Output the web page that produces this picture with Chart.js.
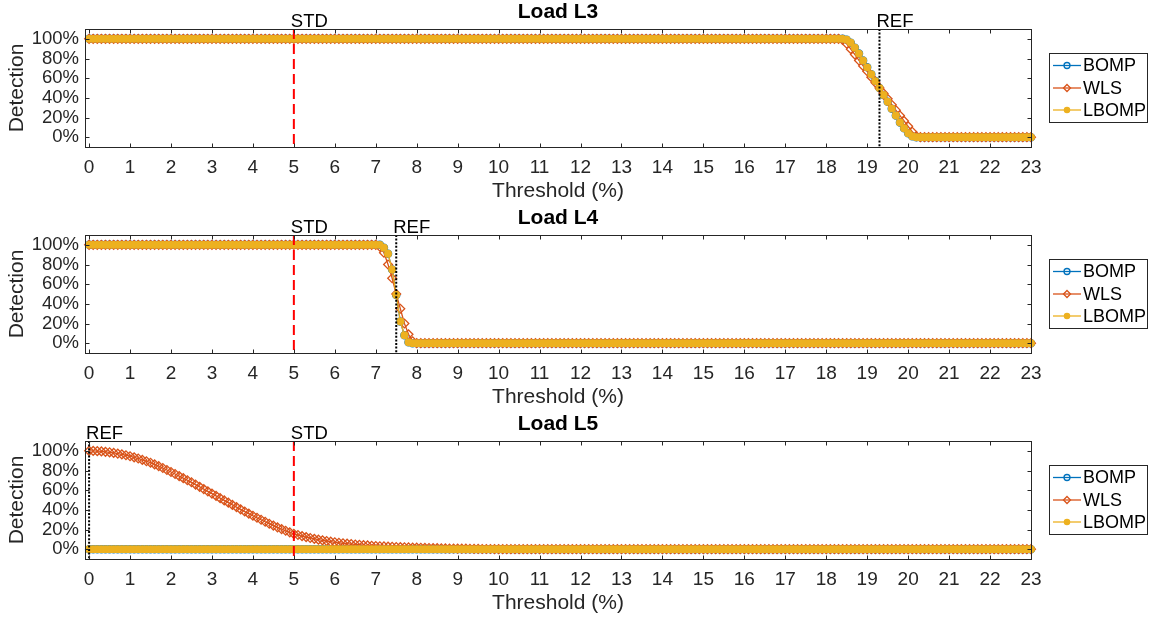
<!DOCTYPE html>
<html>
<head>
<meta charset="utf-8">
<script src="https://cdn.jsdelivr.net/npm/chart.js@4.4.1/dist/chart.umd.min.js"></script>
<style>
  body { margin: 0; background: #fff; }
  #wrap { position: relative; width: 1151px; height: 620px; }
  canvas { position: absolute; left: 0; }
</style>
</head>
<body>
<div id="wrap">
  <canvas id="l3" width="1151" height="207" style="top:0px"></canvas>
  <canvas id="l4" width="1151" height="207" style="top:206px"></canvas>
  <canvas id="l5" width="1151" height="207" style="top:412px"></canvas>
</div>
<script>
// Threshold grid (%), one sample every 0.1
const thresholds = [
  0,0.1,0.2,0.3,0.4,0.5,0.6,0.7,0.8,0.9,
  1,1.1,1.2,1.3,1.4,1.5,1.6,1.7,1.8,1.9,
  2,2.1,2.2,2.3,2.4,2.5,2.6,2.7,2.8,2.9,
  3,3.1,3.2,3.3,3.4,3.5,3.6,3.7,3.8,3.9,
  4,4.1,4.2,4.3,4.4,4.5,4.6,4.7,4.8,4.9,
  5,5.1,5.2,5.3,5.4,5.5,5.6,5.7,5.8,5.9,
  6,6.1,6.2,6.3,6.4,6.5,6.6,6.7,6.8,6.9,
  7,7.1,7.2,7.3,7.4,7.5,7.6,7.7,7.8,7.9,
  8,8.1,8.2,8.3,8.4,8.5,8.6,8.7,8.8,8.9,
  9,9.1,9.2,9.3,9.4,9.5,9.6,9.7,9.8,9.9,
  10,10.1,10.2,10.3,10.4,10.5,10.6,10.7,10.8,10.9,
  11,11.1,11.2,11.3,11.4,11.5,11.6,11.7,11.8,11.9,
  12,12.1,12.2,12.3,12.4,12.5,12.6,12.7,12.8,12.9,
  13,13.1,13.2,13.3,13.4,13.5,13.6,13.7,13.8,13.9,
  14,14.1,14.2,14.3,14.4,14.5,14.6,14.7,14.8,14.9,
  15,15.1,15.2,15.3,15.4,15.5,15.6,15.7,15.8,15.9,
  16,16.1,16.2,16.3,16.4,16.5,16.6,16.7,16.8,16.9,
  17,17.1,17.2,17.3,17.4,17.5,17.6,17.7,17.8,17.9,
  18,18.1,18.2,18.3,18.4,18.5,18.6,18.7,18.8,18.9,
  19,19.1,19.2,19.3,19.4,19.5,19.6,19.7,19.8,19.9,
  20,20.1,20.2,20.3,20.4,20.5,20.6,20.7,20.8,20.9,
  21,21.1,21.2,21.3,21.4,21.5,21.6,21.7,21.8,21.9,
  22,22.1,22.2,22.3,22.4,22.5,22.6,22.7,22.8,22.9,
  23
];
const xTicks = [0,1,2,3,4,5,6,7,8,9,10,11,12,13,14,15,16,17,18,19,20,21,22,23];
const yTicks = [0,20,40,60,80,100];

const seriesNames = ['BOMP', 'WLS', 'LBOMP'];
const seriesColors = ['#0072BD', '#D95319', '#EDB120'];

const loadTitles = ['Load L3', 'Load L4', 'Load L5'];
const stdThreshold = 5;
const refThresholds = [19.3, 7.5, 0];

// constant stretch of a series
function run(v, n) { return new Array(n).fill(v); }

// Detection (%) per threshold sample
const l3Bomp  = [...run(100, 185), 99,96,91,85,78,71,64,57,50,43,36,29,22,15,9,4,1, ...run(0, 29)];
const l3Wls   = [...run(100, 184), 99,95,89.5,84,78,72.5,67,61,55.5,50,44.5,39,33,27.5,22,16.5,11,5.5,1, ...run(0, 28)];
const l3Lbomp = [...run(100, 185), 99,96,91,85,78,71,64,57,50,43,36,29,22,15,9,4,1, ...run(0, 29)];

const l4Bomp  = [...run(100, 72), 97,91,75,49,22,8,1, ...run(0, 152)];
const l4Wls   = [...run(100, 71), 98,92,80,66,50,35,20,9,2, ...run(0, 151)];
const l4Lbomp = [...run(100, 72), 97,91,75,49,22,8,1, ...run(0, 152)];

const l5Bomp  = run(0, 231);
const l5Wls   = [
  100,99.9,99.7,99.4,99.0,98.5,97.9,97.2,96.4,95.5,
  94.5,93.4,92.2,90.8,89.4,87.9,86.2,84.4,82.5,80.5,
  78.5,76.4,74.3,72.2,70.1,68.0,65.7,63.4,61.1,58.8,
  56.5,54.2,51.9,49.6,47.3,45.0,42.8,40.5,38.3,36.1,
  34.0,31.9,29.9,27.9,25.9,24.0,22.2,20.4,18.7,17.1,
  15.5,14.4,13.3,12.3,11.4,10.5,9.7,9.0,8.3,7.6,
  7.0,6.5,6.0,5.6,5.2,4.8,4.5,4.1,3.8,3.5,
  3.2,3.0,2.8,2.6,2.4,2.2,2.1,1.9,1.8,1.6,
  1.5,1.4,1.3,1.2,1.1,1.0,0.9,0.8,0.7,0.7,
  0.6,0.5,0.5,0.4,0.3,0.3,0.2,0.2,0.2,0.1,
  0.1, ...run(0, 130)
];
const l5Lbomp = run(0, 231);

const FONT = '"Liberation Sans", Arial, Helvetica, sans-serif';
const AXIS = '#262626';
Chart.defaults.font.family = FONT;

const pointStyles = ['circle', 'rectRot', 'circle'];
const pointRadii = [3.6, 4.4, 3.3];

function drawMarker(ctx, i, x, y) {
  const r = i === 1 ? 3.5 : (i === 0 ? 3 : 2.6);
  ctx.beginPath();
  if (pointStyles[i] === 'rectRot') {
    ctx.moveTo(x, y - r); ctx.lineTo(x + r, y); ctx.lineTo(x, y + r); ctx.lineTo(x - r, y); ctx.closePath();
  } else {
    ctx.arc(x, y, r, 0, Math.PI * 2);
  }
  if (i === 2) { ctx.fillStyle = seriesColors[i]; ctx.fill(); }
  ctx.strokeStyle = seriesColors[i];
  ctx.lineWidth = 1.3;
  ctx.stroke();
}

// MATLAB style box, inward ticks, threshold lines and boxed legend
const framePlugin = {
  id: 'matlabFrame',
  afterDatasetsDraw(chart, args, opts) {
    const {ctx, chartArea: a, scales: {x, y}} = chart;
    ctx.save();

    // STD and REF lines
    const sx = x.getPixelForValue(stdThreshold);
    const rx = x.getPixelForValue(opts.refX);
    ctx.lineWidth = 2;
    ctx.strokeStyle = '#ff0000';
    ctx.setLineDash([10, 5]);
    ctx.beginPath(); ctx.moveTo(sx, a.top); ctx.lineTo(sx, a.bottom); ctx.stroke();
    ctx.strokeStyle = '#000';
    ctx.setLineDash([2, 1.6]);
    ctx.beginPath(); ctx.moveTo(rx, a.top); ctx.lineTo(rx, a.bottom); ctx.stroke();
    ctx.setLineDash([]);

    // box
    ctx.lineWidth = 1;
    ctx.strokeStyle = AXIS;
    const L = Math.round(a.left) + 0.5, R = Math.round(a.right) + 0.5;
    const T = Math.round(a.top) + 0.5, B = Math.round(a.bottom) + 0.5;
    ctx.strokeRect(L, T, R - L, B - T);

    // ticks pointing inside
    ctx.beginPath();
    xTicks.forEach(v => {
      const px = Math.round(x.getPixelForValue(v)) + 0.5;
      ctx.moveTo(px, B); ctx.lineTo(px, B - 4);
      ctx.moveTo(px, T); ctx.lineTo(px, T + 4);
    });
    yTicks.forEach(v => {
      const py = Math.round(y.getPixelForValue(v)) + 0.5;
      ctx.moveTo(L, py); ctx.lineTo(L + 4, py);
      ctx.moveTo(R, py); ctx.lineTo(R - 4, py);
    });
    ctx.stroke();

    // line labels
    ctx.font = '18.5px ' + FONT;
    ctx.fillStyle = '#000';
    ctx.textAlign = 'left';
    ctx.textBaseline = 'alphabetic';
    ctx.fillText('STD', sx - 3, a.top - 2);
    ctx.fillText('REF', rx - 3, a.top - 2);

    // legend
    const lx = a.right + 18, ly = a.top + 24, lw = 98, lh = 69;
    ctx.fillStyle = '#fff';
    ctx.fillRect(lx, ly, lw, lh);
    ctx.strokeStyle = AXIS;
    ctx.lineWidth = 1;
    ctx.strokeRect(Math.round(lx) + 0.5, Math.round(ly) + 0.5, lw, lh);
    const rows = [12.5, 35, 57];
    chart.data.datasets.forEach((ds, i) => {
      const ry = ly + rows[i];
      ctx.strokeStyle = seriesColors[i];
      ctx.lineWidth = 1.3;
      ctx.beginPath(); ctx.moveTo(lx + 4, ry); ctx.lineTo(lx + 32, ry); ctx.stroke();
      drawMarker(ctx, i, lx + 18, ry);
      ctx.fillStyle = '#000';
      ctx.font = '18px ' + FONT;
      ctx.textBaseline = 'middle';
      ctx.fillText(ds.label, lx + 34, ry + 1);
    });
    ctx.restore();
  }
};

function makeChart(id, k, bomp, wls, lbomp) {
  const datasets = [bomp, wls, lbomp].map((vals, i) => ({
    label: seriesNames[i],
    data: thresholds.map((t, n) => ({x: t, y: vals[n]})),
    borderColor: seriesColors[i],
    borderWidth: 1.3,
    pointStyle: pointStyles[i],
    pointRadius: pointRadii[i],
    pointBorderWidth: 1.3,
    pointBorderColor: seriesColors[i],
    pointBackgroundColor: i === 2 ? seriesColors[i] : 'rgba(0,0,0,0)',
    order: 3 - i,
    clip: false
  }));

  return new Chart(document.getElementById(id), {
    type: 'line',
    data: { datasets },
    options: {
      responsive: false,
      animation: false,
      events: [],
      layout: { padding: { left: 0, right: 120, top: 0, bottom: 0 } },
      plugins: {
        legend: { display: false },
        tooltip: { enabled: false },
        title: {
          display: true,
          text: loadTitles[k],
          fullSize: false,
          color: '#000',
          font: { size: 21, weight: 'bold' },
          padding: { top: 0, bottom: 3.8 }
        },
        matlabFrame: { refX: refThresholds[k] }
      },
      scales: {
        x: {
          type: 'linear',
          min: -0.1,
          max: 23,
          afterBuildTicks: s => { s.ticks = xTicks.map(v => ({ value: v })); },
          afterFit: s => { s.height = 60; },
          grid: { display: false, drawTicks: false },
          border: { display: false },
          ticks: { color: AXIS, font: { size: 19 }, padding: 9, maxRotation: 0, autoSkip: false },
          title: { display: true, text: 'Threshold (%)', color: AXIS, font: { size: 21 }, padding: { top: 0, bottom: 3 } }
        },
        y: {
          min: -10,
          max: 110,
          afterBuildTicks: s => { s.ticks = yTicks.map(v => ({ value: v })); },
          afterFit: s => { s.width = 85; },
          grid: { display: false, drawTicks: false },
          border: { display: false },
          ticks: { color: AXIS, font: { size: 18.5 }, padding: 6, autoSkip: false, callback: v => v + '%' },
          title: { display: true, text: 'Detection', color: AXIS, font: { size: 21 }, padding: { top: 5, bottom: 0 } }
        }
      }
    },
    plugins: [framePlugin]
  });
}

makeChart('l3', 0, l3Bomp, l3Wls, l3Lbomp);
makeChart('l4', 1, l4Bomp, l4Wls, l4Lbomp);
makeChart('l5', 2, l5Bomp, l5Wls, l5Lbomp);
</script>
</body>
</html>
